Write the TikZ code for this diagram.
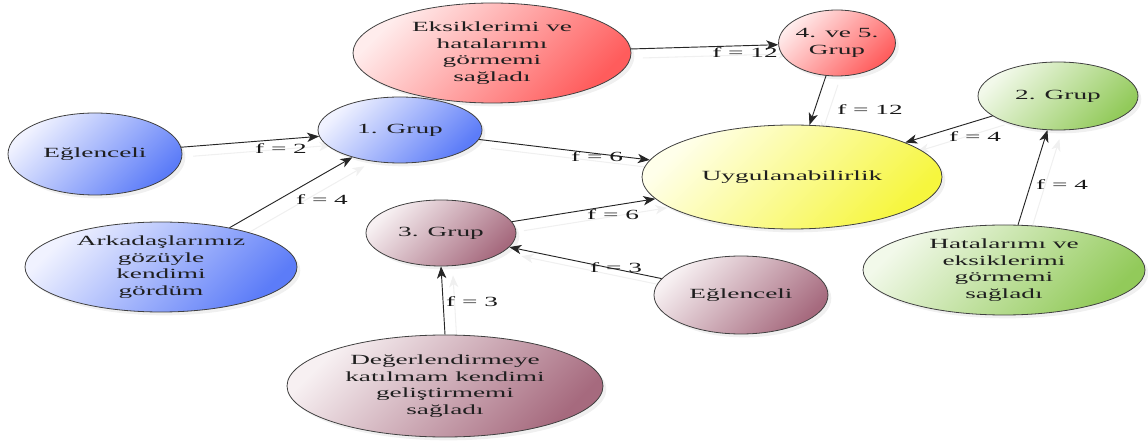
\documentclass[tikz,border=0pt]{standalone}
\usepackage{fontspec}
\setmainfont{Liberation Serif}[FakeStretch=1.95]
\usetikzlibrary{shapes.geometric,arrows.meta,shadows}
\pgfdeclarelayer{background}
\pgfsetlayers{background,main}
\definecolor{bL}{HTML}{F0F2FF}\definecolor{bD}{HTML}{5C7CF8}
\definecolor{rL}{HTML}{FFECEC}\definecolor{rD}{HTML}{FF5C5C}
\definecolor{yL}{HTML}{FFFFEA}\definecolor{yD}{HTML}{F6F63E}
\definecolor{gL}{HTML}{F2F9EA}\definecolor{gD}{HTML}{92CA5A}
\definecolor{mL}{HTML}{F7F0F2}\definecolor{mD}{HTML}{A66A7E}
\tikzset{
  sz/.style 2 args={minimum width=#1*1.5pt, minimum height=#2*1.5pt},
  ell/.style={ellipse, draw=black!75, line width=0.6pt, inner sep=0pt,
    align=center, font=\fontsize{10.5}{12.5}\selectfont, text=black!88,
    drop shadow={shadow xshift=2.5pt, shadow yshift=-2.5pt, opacity=0.12}},
  bluenode/.style={ell, top color=bL, bottom color=bD, shading angle=45},
  rednode/.style={ell, top color=rL, bottom color=rD, shading angle=45},
  yellownode/.style={ell, top color=yL, bottom color=yD, shading angle=45},
  greennode/.style={ell, top color=gL, bottom color=gD, shading angle=45},
  mauvenode/.style={ell, top color=mL, bottom color=mD, shading angle=45},
  conn/.style={draw=black!85, line width=0.7pt,
    -{Stealth[length=9pt,width=7pt,inset=2.5pt]}},
  ghost/.style={draw=black!6, line width=0.8pt,
    -{Stealth[length=9pt,width=7pt,inset=2.5pt]},
    transform canvas={shift={(12,9)}}},
  lbl/.style={font=\fontsize{10.5}{12.5}\selectfont, text=black!90, inner sep=0pt}
}
\begin{document}
\begin{tikzpicture}[x=0.75pt,y=-0.75pt]
\useasboundingbox (0,0) rectangle (1148,441);
% nodes
\node[bluenode, sz={87}{41}] (eg1) at (95,154) {Eğlenceli};
\node[bluenode, sz={82}{33}] (g1) at (400,130) {1. Grup};
\node[bluenode, sz={136}{45}] (ark) at (161,267) {Arkadaşlarımız\\gözüyle\\kendimi\\gördüm};
\node[rednode, sz={139}{50}] (eks) at (492,53) {Eksiklerimi ve\\hatalarımı\\görmemi\\sağladı};
\node[rednode, sz={52}{33}] (g45) at (837,43) {4. ve 5.\\Grup};
\node[yellownode, sz={150}{52}] (uyg) at (792,177) {Uygulanabilirlik};
\node[greennode, sz={80}{34}] (g2) at (1058,96) {2. Grup};
\node[greennode, sz={141}{45}] (hat) at (1004,270) {Hatalarımı ve\\eksiklerimi\\görmemi\\sağladı};
\node[mauvenode, sz={75}{33}] (g3) at (441,233) {3. Grup};
\node[mauvenode, sz={87}{39}] (eg3) at (741,295) {Eğlenceli};
\node[mauvenode, sz={158}{51}] (deg) at (445,386) {Değerlendirmeye\\katılmam kendimi\\geliştirmemi\\sağladı};
% ghost (shadow) connectors, behind the nodes
\begin{pgfonlayer}{background}
\draw[ghost] (eg1) -- (g1);
\draw[ghost] (ark) -- (g1);
\draw[ghost] (g1) -- (uyg);
\draw[ghost] (eks) -- (g45);
\draw[ghost] (g45) -- (uyg);
\draw[ghost] (g2) -- (uyg);
\draw[ghost] (hat) -- (g2);
\draw[ghost] (g3) -- (uyg);
\draw[ghost] (eg3) -- (g3);
\draw[ghost] (deg.north) -- (g3.south);
\end{pgfonlayer}
% connectors
\draw[conn] (eg1) -- (g1);
\draw[conn] (ark) -- (g1);
\draw[conn] (g1) -- (uyg);
\draw[conn] (eks) -- (g45);
\draw[conn] (g45) -- (uyg);
\draw[conn] (g2) -- (uyg);
\draw[conn] (hat) -- (g2);
\draw[conn] (g3) -- (uyg);
\draw[conn] (eg3) -- (g3);
\draw[conn] (deg.north) -- (g3.south);
% labels
\node[lbl] (l1) at (281,149) {f = 2};
\node[lbl] (l2) at (322,200) {f = 4};
\node[lbl] (l3) at (597,157) {f = 6};
\node[lbl] (l4) at (745,53) {f = 12};
\node[lbl] (l5) at (870,110) {f = 12};
\node[lbl] (l6) at (975,137) {f = 4};
\node[lbl] (l7) at (1062,185) {f = 4};
\node[lbl] (l8) at (613,215) {f = 6};
\node[lbl] (l9) at (616,268) {f = 3};
\node[lbl] (l10) at (472,302) {f = 3};
\end{tikzpicture}
\end{document}
